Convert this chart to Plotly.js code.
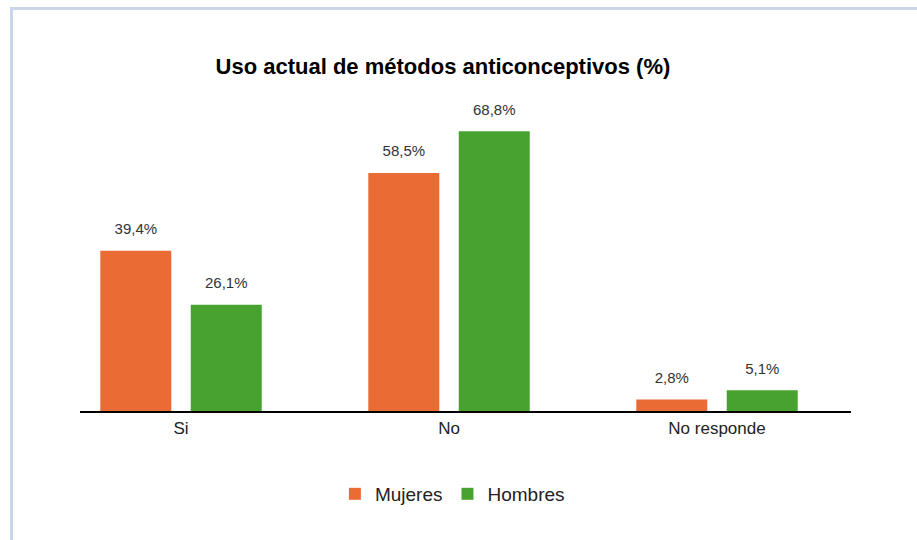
<!DOCTYPE html>
<html>
<head>
<meta charset="utf-8">
<script src="https://cdn.plot.ly/plotly-3.0.1.min.js"></script>
<style>
html,body{margin:0;padding:0;background:#fff;}
#chart{position:absolute;left:0;top:0;width:917px;height:540px;}
#frame{position:absolute;left:10px;top:7px;width:920px;height:560px;border-left:3px solid #c9d6ea;border-top:3px solid #c9d6ea;pointer-events:none;}
</style>
</head>
<body>
<div id="chart"></div>
<div id="frame"></div>
<script>
const categories = ["Si", "No", "No responde"];
const mujeres = [39.4, 58.5, 2.8];
const hombres = [26.1, 68.8, 5.1];
const seriesNames = ["Mujeres", "Hombres"];
const colors = ["#eb6b34", "#47a22f"];

function fmt(v){ return "<span style='font-size:15px'>" + v.toFixed(1).replace(".", ",") + "%</span><br> "; }

const labelFont = {family: "Liberation Sans, Arial, sans-serif", size: 9, color: "#333333"};

const traces = [mujeres, hombres].map((vals, i) => ({
  type: "bar",
  name: seriesNames[i],
  x: categories,
  y: vals,
  marker: {color: colors[i]},
  text: vals.map(fmt),
  textposition: "outside",
  textfont: labelFont,
  cliponaxis: false,
  hoverinfo: "none"
}));

const layout = {
  width: 917,
  height: 540,
  paper_bgcolor: "rgba(0,0,0,0)",
  plot_bgcolor: "rgba(0,0,0,0)",
  margin: {l: 80, r: 66, t: 106, b: 129},
  title: {
    text: "<b>Uso actual de métodos anticonceptivos (%)</b>",
    font: {family: "Liberation Sans, Arial, sans-serif", size: 22, color: "#000"},
    x: 0.483, xanchor: "center", y: 0.877, yanchor: "middle"
  },
  barmode: "group",
  bargap: 0.325,
  bargroupgap: 0.215,
  xaxis: {
    type: "category",
    range: [-0.377, 2.5],
    showline: true, linecolor: "#000", linewidth: 2,
    ticks: "", showgrid: false,
    ticklabelstandoff: 1,
    tickfont: {family: "Liberation Sans, Arial, sans-serif", size: 17, color: "#222"}
  },
  yaxis: {
    range: [0, 75],
    visible: false, showgrid: false, zeroline: false
  },
  showlegend: true,
  legend: {
    orientation: "h",
    x: 0.483, xanchor: "center",
    y: -0.272, yanchor: "middle",
    font: {family: "Liberation Sans, Arial, sans-serif", size: 19, color: "#222"},
    itemwidth: 30,
    traceorder: "normal"
  }
};

Plotly.newPlot("chart", traces, layout, {displayModeBar: false, staticPlot: true});
</script>
</body>
</html>
